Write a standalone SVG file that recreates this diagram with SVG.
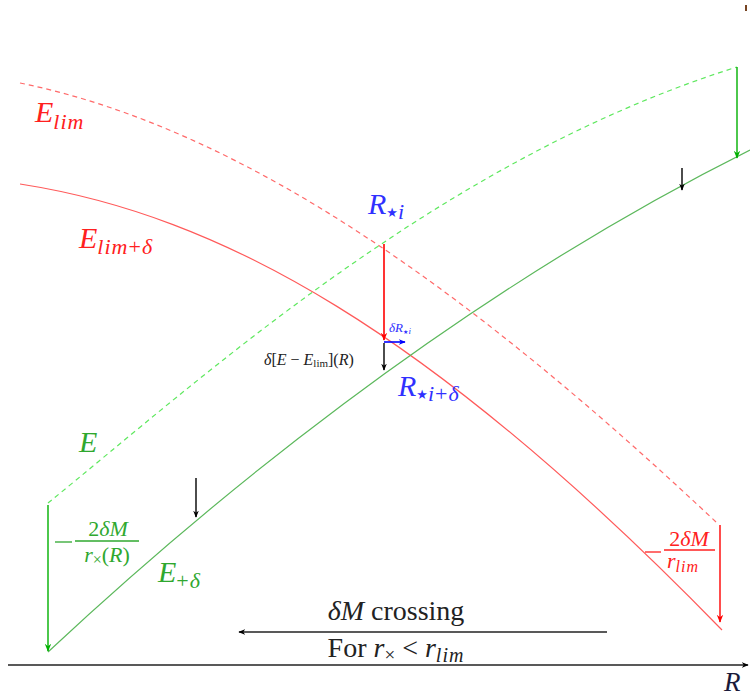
<svg xmlns="http://www.w3.org/2000/svg" width="750" height="700" viewBox="0 0 750 700">
<defs>
<marker id="ak" viewBox="0 0 10 10" refX="9" refY="5" markerWidth="7" markerHeight="7" orient="auto" markerUnits="userSpaceOnUse"><path d="M0,1 L10,5 L0,9 L3,5 z" fill="#000"/></marker>
<marker id="ar" viewBox="0 0 10 10" refX="9" refY="5" markerWidth="8" markerHeight="8" orient="auto" markerUnits="userSpaceOnUse"><path d="M0,1 L10,5 L0,9 L3,5 z" fill="#ff0000"/></marker>
<marker id="ag" viewBox="0 0 10 10" refX="9" refY="5" markerWidth="8" markerHeight="8" orient="auto" markerUnits="userSpaceOnUse"><path d="M0,1 L10,5 L0,9 L3,5 z" fill="#00b000"/></marker>
<marker id="ab" viewBox="0 0 10 10" refX="9" refY="5" markerWidth="7" markerHeight="7" orient="auto" markerUnits="userSpaceOnUse"><path d="M0,1 L10,5 L0,9 L3,5 z" fill="#0000ff"/></marker>
</defs>
<style>
.t{font-family:"Liberation Serif","DejaVu Serif",serif;}
.i{font-style:italic;}
.red{fill:#ff2020;}
.blue{fill:#3030ff;}
.grn{fill:#2fa82f;}
.blk{fill:#222;}
.curve{fill:none;stroke-width:1.2;}
.sub{font-size:22px;letter-spacing:1px;}
.star{font-family:"DejaVu Sans",sans-serif;font-style:normal;}
</style>
<rect width="750" height="700" fill="#fff"/>
<g id="curves">
<path id="Elim" class="curve" d="M20,83 C250,130 480,300 716,522" stroke="#ff6a6a" stroke-dasharray="5,4"/>
<path id="Elimd" class="curve" d="M20,184 C220,215 430,330 722,630" stroke="#ff5a5a"/>
<path id="E" class="curve" d="M48,503 C200,380 440,160 737,67" stroke="#5fe85f" stroke-dasharray="5,4" stroke-width="1.5"/>
<path id="Ed" class="curve" d="M48,652 C200,510 450,300 750,150" stroke="#5cb85c"/>
</g>
<g id="connectors">
<line x1="8" y1="665" x2="748" y2="665" stroke="#222" stroke-width="1.5" marker-end="url(#ak)"/>
<line x1="607" y1="632" x2="239" y2="632" stroke="#222" stroke-width="1.3" marker-end="url(#ak)"/>
<line x1="48" y1="505" x2="48" y2="651" stroke="#00b000" stroke-width="1.4" marker-end="url(#ag)"/>
<line x1="737" y1="67" x2="737" y2="158" stroke="#00b000" stroke-width="1.4" marker-end="url(#ag)"/>
<line x1="720" y1="525" x2="720" y2="622" stroke="#ff0000" stroke-width="1.4" marker-end="url(#ar)"/>
<line x1="384" y1="244" x2="384" y2="340" stroke="#ff0000" stroke-width="1.6" marker-end="url(#ar)"/>
<line x1="384" y1="343" x2="384" y2="370" stroke="#000" stroke-width="1.4" marker-end="url(#ak)"/>
<line x1="196" y1="478" x2="196" y2="517" stroke="#000" stroke-width="1.4" marker-end="url(#ak)"/>
<line x1="682" y1="168" x2="682" y2="190" stroke="#000" stroke-width="1.4" marker-end="url(#ak)"/>
<line x1="384" y1="342" x2="405" y2="342" stroke="#0000ff" stroke-width="1.6" marker-end="url(#ab)"/>
</g>
<g id="labels" class="t">
<text class="i red" x="35" y="122" font-size="30">E<tspan class="sub" dy="7">lim</tspan></text>
<text class="i red" x="79" y="248" font-size="30">E<tspan class="sub" dy="6">lim</tspan><tspan class="sub" font-style="normal">+</tspan><tspan class="sub">δ</tspan></text>
<text class="i blue" x="368" y="214" font-size="30">R<tspan class="star" font-size="13" dy="3">★</tspan><tspan class="sub" dy="2">i</tspan></text>
<text class="i blue" x="398" y="396" font-size="30">R<tspan class="star" font-size="13" dy="3">★</tspan><tspan class="sub" dy="2">i</tspan><tspan class="sub" font-style="normal">+</tspan><tspan class="sub">δ</tspan></text>
<text class="i blue" x="389" y="332" font-size="13">δR<tspan class="star" font-size="6" dy="2">★</tspan><tspan font-size="9">i</tspan></text>
<text class="blk" x="264" y="365" font-size="16"><tspan class="i">δ</tspan>[<tspan class="i">E</tspan> − <tspan class="i">E</tspan><tspan font-size="11" dy="2">lim</tspan><tspan dy="-2">](</tspan><tspan class="i">R</tspan>)</text>
<text class="i grn" x="79" y="452" font-size="30">E</text>
<text class="i grn" x="158" y="582" font-size="30">E<tspan class="sub" dy="6" font-style="normal">+</tspan><tspan class="sub">δ</tspan></text>
<g id="fracG">
<line x1="55" y1="542" x2="72" y2="542" stroke="#2fa82f" stroke-width="1.3"/>
<line x1="75" y1="541" x2="139" y2="541" stroke="#2fa82f" stroke-width="1.3"/>
<text class="grn" x="108" y="536" font-size="22" text-anchor="middle">2<tspan class="i">δM</tspan></text>
<text class="grn" x="107" y="562" font-size="22" text-anchor="middle"><tspan class="i">r</tspan><tspan font-size="16" dy="3">×</tspan><tspan dy="-3">(</tspan><tspan class="i">R</tspan>)</text>
</g>
<g id="fracR">
<line x1="645" y1="552" x2="661" y2="552" stroke="#ff2020" stroke-width="1.3"/>
<line x1="664" y1="550" x2="715" y2="550" stroke="#ff2020" stroke-width="1.3"/>
<text class="red" x="689" y="546" font-size="22" text-anchor="middle">2<tspan class="i">δM</tspan></text>
<text class="red i" x="667" y="568" font-size="22">r<tspan font-size="16" dy="4" letter-spacing="1">lim</tspan></text>
</g>
<text class="blk" x="396" y="620" font-size="28" text-anchor="middle"><tspan class="i">δM</tspan> crossing</text>
<text class="blk" x="396" y="657" font-size="28" text-anchor="middle">For <tspan class="i">r</tspan><tspan font-size="19" dy="4">×</tspan><tspan dy="-4"> &lt; </tspan><tspan class="i">r</tspan><tspan class="i" font-size="20" dy="5" letter-spacing="1">lim</tspan></text>
<text class="i" x="724" y="691" font-size="27" fill="#1a1a3a">R</text>
</g>
<rect x="745" y="5" width="2" height="6" fill="#774422"/>
</svg>
